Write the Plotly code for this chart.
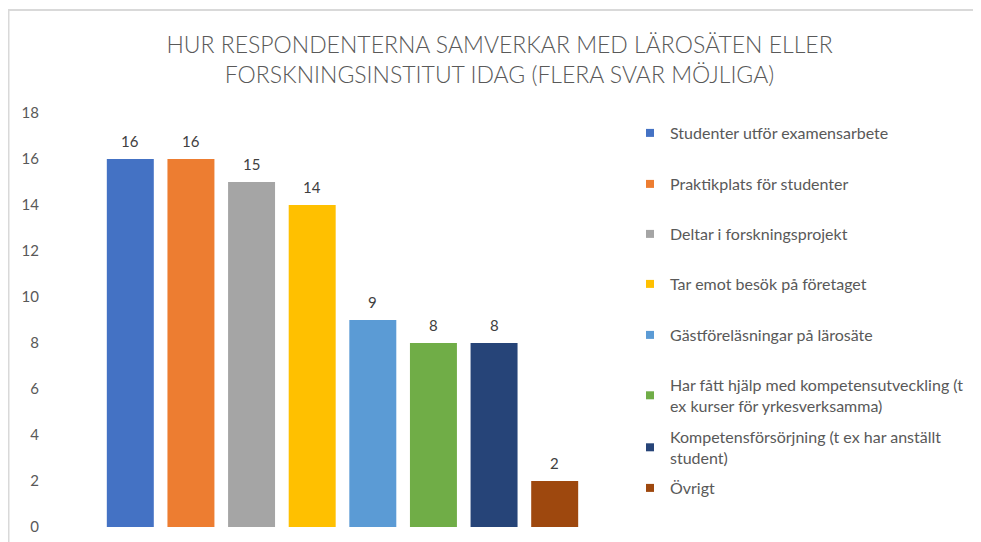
import plotly.graph_objects as go

categories = [
    "Studenter utför examensarbete",
    "Praktikplats för studenter",
    "Deltar i forskningsprojekt",
    "Tar emot besök på företaget",
    "Gästföreläsningar på lärosäte",
    "Har fått hjälp med kompetensutveckling (t<br>ex kurser för yrkesverksamma)",
    "Kompetensförsörjning (t ex har anställt<br>student)",
    "Övrigt",
]
values = [16, 16, 15, 14, 9, 8, 8, 2]
colors = ["#4472C4", "#ED7D31", "#A5A5A5", "#FFC000", "#5B9BD5", "#70AD47", "#264478", "#9E480E"]
y_ticks = [0, 2, 4, 6, 8, 10, 12, 14, 16, 18]
title_text = "HUR RESPONDENTERNA SAMVERKAR MED LÄROSÄTEN ELLER<br>FORSKNINGSINSTITUT IDAG (FLERA SVAR MÖJLIGA)"

W, H = 981, 542
O = 8  # page body margin offset
PL, PR, PT, PB = 100 - O, 585 - O, 113 - O, 527 - O
FONT = "Lato, 'Open Sans', sans-serif"

fig = go.Figure()
fig.add_trace(go.Bar(
    x=list(range(len(values))), y=values,
    marker=dict(color=colors, line=dict(width=0)),
    showlegend=False, hoverinfo="skip",
))

annotations = [
    dict(x=i, y=v, xref="x", yref="y", text=str(v), showarrow=False,
         yanchor="middle", yshift=18,
         font=dict(size=15, color="#404040", family=FONT))
    for i, v in enumerate(values)
]

legend_tops = [108, 159, 209, 259, 310, 360, 412, 463]
layout_legends = {}
for i, (cat, col) in enumerate(zip(categories, colors)):
    key = "legend" if i == 0 else f"legend{i+1}"
    fig.add_trace(go.Scatter(
        x=[None], y=[None], mode="markers",
        marker=dict(symbol="square", size=8, color=col),
        name=cat, legend=key, showlegend=True,
    ))
    layout_legends[key] = dict(
        xref="container", yref="container",
        x=622 / W, y=1 - legend_tops[i] / H,
        xanchor="left", yanchor="top",
        font=dict(size=16, color="#595959", family=FONT),
        bgcolor="rgba(0,0,0,0)", borderwidth=0,
        itemclick=False, itemdoubleclick=False,
    )

def px_x(px):
    return (px - PL) / (PR - PL)

def px_y(py):
    return (PB - py) / (PB - PT)

fig.update_layout(
    width=W, height=H,
    margin=dict(l=PL, r=W - PR, t=PT, b=H - PB),
    paper_bgcolor="white", plot_bgcolor="white",
    bargap=0.225,
    title=dict(text=title_text, xref="container", x=491.5 / W, xanchor="center",
               yref="container", y=1 - 45 / H, yanchor="middle",
               font=dict(size=23, color="#595959", family=FONT, weight=300)),
    xaxis=dict(range=[-0.5, len(values) - 0.5], showticklabels=False, showgrid=False,
               zeroline=False, showline=False, ticks=""),
    yaxis=dict(range=[0, 18], tickvals=y_ticks, showgrid=False, zeroline=False,
               showline=False, ticks="", ticklabelstandoff=60,
               tickfont=dict(size=15, color="#595959", family=FONT)),
    annotations=annotations,
    shapes=[
        dict(type="line", xref="paper", yref="paper", x0=px_x(0), x1=px_x(990),
             y0=px_y(2), y1=px_y(2), line=dict(color="#D9D9D9", width=2)),
        dict(type="line", xref="paper", yref="paper", x0=px_x(0.5), x1=px_x(0.5),
             y0=px_y(2), y1=px_y(560), line=dict(color="#D9D9D9", width=2)),
    ],
    **layout_legends,
)

fig.write_html("out.html")
